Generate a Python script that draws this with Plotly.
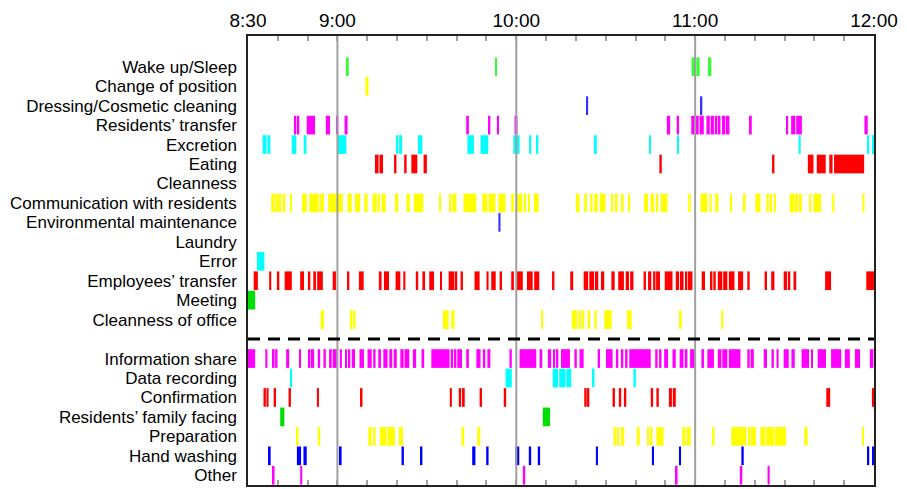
import plotly.graph_objects as go

# Time in minutes after 8:30 (0 = 8:30, 210 = 12:00); intervals are (start, end)
categories = [
    "Wake up/Sleep", "Change of position", "Dressing/Cosmetic cleaning",
    "Residents\u2019 transfer", "Excretion", "Eating", "Cleanness",
    "Communication with residents", "Environmental maintenance", "Laundry",
    "Error", "Employees\u2019 transfer", "Meeting", "Cleanness of office",
    "Information share", "Data recording", "Confirmation",
    "Residents\u2019 family facing", "Preparation", "Hand washing", "Other",
]
row_positions = [0, 1, 2, 3, 4, 5, 6, 7, 8, 9, 10, 11, 12, 13,
                 15, 16, 17, 18, 19, 20, 21]
divider_row = 14

time_tick_values = [0, 30, 90, 150, 210]
time_tick_labels = ["8:30", "9:00", "10:00", "11:00", "12:00"]
minor_tick_values = list(range(0, 211, 10))

wake_sleep = [(33.2, 33.8), (82.9, 83.5), (148.8, 150.0), (150.4, 151.5), (154.3, 155.4)]
change_position = [(39.4, 40.4)]
dressing = [(113.5, 114.1), (151.8, 152.4)]
residents_transfer = [(15.6, 16.2), (16.6, 17.2), (19.7, 22.5), (26.1, 27.5), (29.5, 30.3),
                      (32.4, 33.4), (73.2, 74.1), (80.5, 81.3), (83.5, 84.2), (89.4, 90.4),
                      (140.5, 141.6), (143.8, 144.6), (148.7, 150.2), (150.6, 151.2),
                      (151.5, 152.9), (153.8, 154.9), (155.2, 156.3), (156.6, 157.4),
                      (157.6, 158.5), (159.0, 160.1), (160.3, 161.5), (168.4, 169.0),
                      (180.6, 181.2), (182.2, 183.6), (183.9, 185.8), (206.8, 207.9)]
excretion = [(4.9, 6.2), (6.5, 7.5), (14.7, 16.2), (18.7, 19.6), (30.0, 33.0), (49.6, 50.4),
             (50.7, 51.7), (57.0, 58.5), (73.6, 75.8), (78.0, 80.6), (89.0, 91.1),
             (94.3, 95.0), (96.8, 97.4), (116.4, 117.0), (134.7, 135.2), (144.0, 144.5),
             (184.7, 185.4), (207.8, 208.4), (209.6, 210.0)]
eating = [(42.6, 43.8), (44.1, 45.3), (49.0, 49.8), (52.4, 53.2), (54.8, 56.8), (58.9, 60.0),
          (138.0, 138.8), (175.8, 176.6), (187.8, 189.7), (190.8, 193.8), (195.0, 196.1),
          (196.6, 206.7)]
cleanness = []
communication = [(7.8, 9.1), (9.4, 10.3), (10.6, 11.1), (11.6, 12.5), (14.1, 14.7),
                 (18.1, 19.7), (20.6, 23.6), (23.9, 24.7), (25.0, 25.5), (26.9, 31.8),
                 (33.4, 34.8), (35.9, 37.6), (39.0, 40.1), (41.8, 43.1), (43.4, 44.2),
                 (44.8, 46.2), (49.3, 50.4), (53.2, 54.3), (55.6, 58.8), (64.4, 64.7),
                 (67.7, 68.2), (68.6, 69.9), (72.3, 76.6), (78.6, 80.3), (80.7, 83.0),
                 (84.0, 86.4), (88.3, 89.2), (90.3, 92.0), (92.5, 93.3), (93.9, 94.6),
                 (95.9, 97.5), (110.0, 111.2), (112.8, 113.7), (114.8, 115.6), (116.2, 117.3),
                 (118.0, 119.9), (122.0, 122.5), (123.1, 124.0), (125.1, 126.0), (127.6, 128.2),
                 (132.9, 134.2), (135.1, 136.2), (136.8, 137.6), (138.5, 140.7), (147.7, 148.5),
                 (151.8, 154.1), (154.8, 155.5), (156.7, 157.8), (161.8, 162.4), (166.0, 166.9),
                 (170.2, 171.9), (173.9, 174.7), (175.0, 175.8), (176.4, 177.1), (181.7, 183.3),
                 (183.5, 184.5), (184.8, 185.8), (188.3, 188.9), (189.7, 192.2), (196.0, 196.7),
                 (206.1, 206.8)]
environmental = [(84.0, 84.7)]
laundry = []
error = [(3.0, 5.5)]
employees_transfer = [(1.9, 3.3), (7.1, 7.8), (9.7, 10.5), (12.3, 14.7), (17.5, 18.8),
                      (20.1, 20.9), (21.9, 22.8), (23.2, 25.1), (28.4, 29.5), (33.2, 34.0),
                      (37.2, 38.8), (43.9, 44.8), (45.6, 47.3), (49.5, 51.1), (52.1, 52.8),
                      (56.3, 57.1), (58.5, 59.4), (60.8, 62.4), (64.6, 65.0), (67.3, 69.1),
                      (69.3, 70.2), (71.3, 72.1), (76.0, 77.7), (80.0, 80.7), (81.6, 83.1),
                      (84.4, 85.2), (88.3, 89.2), (90.0, 92.2), (93.6, 95.5), (96.0, 97.7),
                      (102.0, 102.8), (108.1, 109.1), (112.6, 114.1), (114.5, 116.1),
                      (116.4, 117.5), (118.4, 119.5), (121.9, 123.0), (124.2, 126.1),
                      (126.7, 127.8), (128.2, 129.3), (132.7, 133.5), (134.2, 135.3),
                      (135.9, 136.7), (136.9, 138.2), (139.8, 142.4), (143.5, 144.6),
                      (144.9, 146.1), (146.8, 147.4), (147.6, 149.1), (152.2, 153.3),
                      (155.2, 155.8), (156.1, 156.9), (157.6, 159.1), (159.4, 160.8),
                      (161.3, 163.2), (164.4, 166.1), (167.5, 168.3), (173.3, 174.1),
                      (175.5, 176.6), (179.7, 180.8), (181.1, 181.9), (183.0, 183.9),
                      (193.6, 195.6), (207.4, 210.0)]
meeting = [(0.0, 2.4)]
office_cleanness = [(24.4, 25.5), (34.2, 35.0), (35.3, 36.1), (65.4, 67.3), (68.2, 69.3),
                    (98.3, 98.9), (108.6, 110.4), (110.8, 111.7), (112.2, 112.8),
                    (113.9, 114.8), (116.2, 117.0), (119.5, 122.0), (127.3, 127.8),
                    (128.1, 128.7), (144.9, 145.5), (158.7, 159.4)]
info_share = [(0.0, 2.4), (5.8, 6.5), (8.3, 8.9), (9.1, 9.9), (12.8, 13.8), (17.2, 17.8),
              (20.1, 20.9), (21.1, 22.2), (23.4, 24.2), (25.3, 26.1), (27.2, 28.1),
              (28.4, 29.8), (30.8, 31.5), (32.6, 33.2), (33.7, 34.3), (34.8, 35.9),
              (37.4, 38.9), (40.1, 41.5), (42.0, 42.8), (43.7, 44.6), (45.4, 46.8),
              (47.4, 48.4), (48.9, 49.9), (51.1, 52.2), (52.5, 54.1), (55.3, 56.4),
              (58.2, 59.1), (61.5, 67.6), (68.0, 68.8), (69.1, 69.9), (70.2, 71.8),
              (73.2, 74.1), (76.6, 78.0), (78.8, 79.6), (80.3, 81.3), (87.7, 88.5),
              (91.1, 96.7), (97.8, 98.7), (100.6, 101.7), (102.3, 103.0), (103.3, 104.1),
              (105.0, 108.0), (109.5, 110.3), (111.2, 112.6), (117.3, 118.1), (120.1, 122.3),
              (123.4, 124.2), (125.1, 125.9), (126.5, 127.3), (127.9, 135.1), (136.6, 137.4),
              (137.9, 138.7), (139.6, 140.9), (142.4, 143.5), (144.8, 146.1), (146.5, 147.4),
              (148.3, 149.9), (152.1, 153.0), (154.1, 156.3), (157.6, 158.8), (159.1, 160.8),
              (161.3, 165.2), (167.5, 168.3), (168.6, 169.7), (173.0, 174.1), (175.6, 176.4),
              (177.3, 178.0), (179.7, 181.4), (182.3, 183.4), (185.7, 188.2), (189.0, 189.5),
              (191.1, 193.9), (195.6, 199.0), (200.2, 201.9), (203.6, 205.3), (208.6, 209.8)]
data_recording = [(14.2, 14.8), (86.4, 88.5), (102.2, 104.0), (104.4, 106.5), (106.8, 108.4),
                  (115.4, 116.2), (129.3, 130.1)]
confirmation = [(5.2, 6.0), (6.2, 6.9), (8.6, 9.4), (13.6, 14.4), (23.1, 23.8), (37.8, 38.4),
                (67.7, 68.4), (70.7, 71.5), (71.8, 72.7), (77.7, 78.5), (85.8, 86.6),
                (112.8, 113.6), (113.9, 114.5), (122.3, 123.1), (124.4, 125.2), (126.1, 126.9),
                (135.1, 135.9), (137.0, 137.8), (141.2, 142.2), (142.5, 143.5), (194.0, 195.3),
                (209.3, 210.0)]
family_facing = [(10.8, 12.2), (98.9, 101.3)]
preparation = [(16.1, 16.9), (23.4, 24.2), (40.4, 41.5), (42.0, 42.8), (44.2, 46.6),
               (46.9, 49.3), (50.6, 52.0), (71.6, 72.5), (76.9, 77.9), (122.6, 123.4),
               (123.7, 124.5), (125.1, 126.2), (130.4, 131.4), (134.0, 134.6), (134.9, 135.7),
               (137.0, 139.4), (145.7, 146.8), (147.2, 148.5), (155.7, 156.5), (162.1, 167.2),
               (167.8, 168.4), (168.6, 170.4), (171.9, 173.6), (173.9, 176.4), (176.7, 180.5),
               (186.6, 187.7), (206.0, 206.6)]
hand_washing = [(6.7, 7.6), (16.4, 17.8), (18.6, 19.7), (30.8, 31.4), (51.5, 52.3),
                (57.9, 58.5), (75.2, 76.3), (79.9, 80.7), (89.7, 91.0), (94.2, 95.0),
                (97.2, 98.0), (116.7, 117.4), (135.5, 136.2), (144.6, 145.2), (165.5, 166.3),
                (207.8, 208.4), (209.6, 210.0)]
other = [(8.3, 8.9), (17.5, 18.2), (92.2, 93.0), (143.5, 144.1), (165.0, 165.8), (174.3, 175.0)]

series = [wake_sleep, change_position, dressing, residents_transfer, excretion, eating,
          cleanness, communication, environmental, laundry, error, employees_transfer,
          meeting, office_cleanness, info_share, data_recording, confirmation,
          family_facing, preparation, hand_washing, other]
colors = ["#33FF33", "#FFFF00", "#3333FF", "#FF00FF", "#00FFFF", "#FF0000",
          "#FFFF00", "#FFFF00", "#3333FF", "#FFFF00", "#00FFFF", "#FF0000",
          "#00E000", "#FFFF00", "#FF00FF", "#00FFFF", "#FF0000",
          "#00E000", "#FFFF00", "#0000FF", "#FF00FF"]

fig = go.Figure()
for name, pos, intervals, col in zip(categories, row_positions, series, colors):
    if not intervals:
        continue
    fig.add_trace(go.Bar(
        orientation="h",
        y=[pos] * len(intervals),
        base=[s for s, e in intervals],
        x=[e - s for s, e in intervals],
        width=0.96,
        marker=dict(color=col, line=dict(width=0)),
        name=name,
        showlegend=False,
        hoverinfo="skip",
    ))

# hour lines
for hv in [30, 90, 150]:
    fig.add_shape(type="line", xref="x", yref="paper", x0=hv, x1=hv, y0=0, y1=1,
                  line=dict(color="#A0A0A0", width=2), layer="above")
# divider
fig.add_shape(type="line", xref="paper", yref="y", x0=0, x1=1, y0=divider_row, y1=divider_row,
              line=dict(color="black", width=3, dash="12px,8px"), layer="above")

minor_text = []
for v in minor_tick_values:
    minor_text.append(time_tick_labels[time_tick_values.index(v)] if v in time_tick_values else "")

# the page body adds an 8px offset; the figure size and margins compensate for it
fig.update_layout(
    width=899, height=481,
    margin=dict(l=238, r=33, t=26, b=2),
    paper_bgcolor="white", plot_bgcolor="white",
    barmode="overlay",
    font=dict(family="Arial, Liberation Sans, sans-serif", color="black"),
    xaxis=dict(range=[0, 210], side="top", tickvals=minor_tick_values, ticktext=minor_text,
               ticks="inside", ticklen=5, tickwidth=2, tickcolor="#A0A0A0",
               showline=True, linecolor="#222", linewidth=1.5, mirror="ticks",
               showgrid=False, zeroline=False, tickfont=dict(size=19)),
    yaxis=dict(range=[21.5, -1.58], tickvals=row_positions, ticktext=categories,
               ticks="", showline=True, linecolor="#222", linewidth=1.5, mirror=True,
               showgrid=False, zeroline=False, tickfont=dict(size=17),
               ticklabelstandoff=6),
)

fig.write_html("out.html")
